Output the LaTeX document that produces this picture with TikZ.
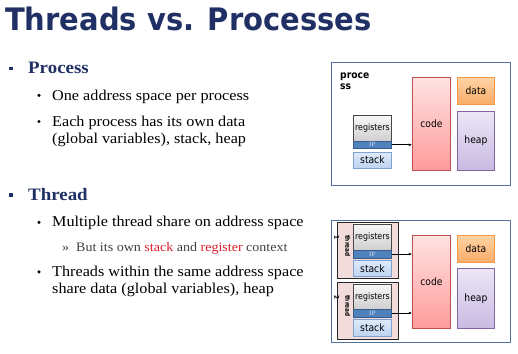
\documentclass[tikz,border=0pt]{standalone}
\usepackage{fontspec}
\setmainfont{Liberation Serif}[FakeStretch=1.08]
\newfontfamily\titlefont{DejaVu Sans}[FakeStretch=0.935]
\newfontfamily\diagfont{DejaVu Sans}[FakeStretch=0.9]
\usetikzlibrary{arrows.meta}
\definecolor{navy}{RGB}{32,48,100}
\definecolor{bodygray}{RGB}{64,64,64}
\definecolor{hired}{RGB}{218,30,40}
\definecolor{frameblue}{RGB}{84,112,160}
\definecolor{ipblue}{RGB}{79,129,189}
\definecolor{ipdark}{RGB}{56,93,138}
\definecolor{stacktop}{RGB}{222,234,248}
\definecolor{stackbot}{RGB}{190,212,240}
\definecolor{stackline}{RGB}{125,162,210}
\definecolor{codetop}{RGB}{255,226,226}
\definecolor{codebot}{RGB}{255,155,155}
\definecolor{codeline}{RGB}{192,80,77}
\definecolor{datatop}{RGB}{255,212,165}
\definecolor{databot}{RGB}{250,172,105}
\definecolor{dataline}{RGB}{247,150,70}
\definecolor{heaptop}{RGB}{236,230,246}
\definecolor{heapbot}{RGB}{200,186,226}
\definecolor{heapline}{RGB}{128,100,162}
\definecolor{threadfill}{RGB}{242,220,219}
\tikzset{
  blk/.style={rectangle, inner sep=0pt, anchor=north west, font=\diagfont\fontsize{10.2}{10.2}\selectfont},
  outerbox/.style={blk, draw=frameblue, line width=1.3pt, fill=white},
  regbox/.style={blk, top color=gray!6, bottom color=gray!38, draw=gray!55!black, line width=0.8pt, minimum width=38pt, font=\diagfont\fontsize{8.8}{8.8}\selectfont},
  ipbar/.style={blk, fill=ipblue, draw=ipdark, line width=0.6pt, minimum width=38pt, text=white!75!ipblue, font=\fontsize{6.5}{6.5}\selectfont},
  stackbox/.style={blk, top color=stacktop, bottom color=stackbot, draw=stackline, line width=0.8pt, minimum width=38pt},
  codebox/.style={blk, top color=codetop, bottom color=codebot, draw=codeline, line width=0.8pt, minimum width=38pt, minimum height=93pt},
  databox/.style={blk, top color=datatop, bottom color=databot, draw=dataline, line width=0.8pt, minimum width=37pt, minimum height=27pt},
  heapbox/.style={blk, top color=heaptop, bottom color=heapbot, draw=heapline, line width=0.8pt, minimum width=37pt},
  threadbox/.style={blk, fill=threadfill, draw=black!85, line width=1.1pt, minimum width=61pt},
  threadlabel/.style={inner sep=0pt, rotate=-90, anchor=north west, align=left, font=\diagfont\bfseries\fontsize{6.4}{11}\selectfont},
  ptr/.style={draw=black, line width=0.8pt, -{Latex[length=3.2pt,width=3pt]}},
  txt/.style={inner sep=0pt, anchor=base west, align=left},
  item/.style={txt, font=\fontsize{15}{17}\selectfont},
  heading/.style={txt, text=navy, font=\bfseries\fontsize{17.5}{17.5}\selectfont},
  sqbullet/.style={fill=navy},
  dotbullet/.style={fill=black}
}
\begin{document}
\begin{tikzpicture}[x=1pt,y=-1pt]
\useasboundingbox (0,0) rectangle (518,353);
% ---------- text ----------
\node[txt, text=navy, font=\titlefont\bfseries\fontsize{31}{31}\selectfont] (title) at (5,30.5) {Threads vs. Processes};

\fill[sqbullet] (9.3,66.7) rectangle (12.7,70.4);
\node[heading] (hproc) at (28,73.5) {Process};
\fill[dotbullet] (39,95.3) circle (1.7);
\node[item] (i1) at (52,100) {One address space per process};
\fill[dotbullet] (39,121.5) circle (1.7);
% base anchor of a two-line node is the baseline of its last line
\node[item] (i2) at (52,143) {Each process has its own data\\(global variables), stack, heap};

\fill[sqbullet] (9.3,192.8) rectangle (12.7,196.5);
\node[heading] (hthr) at (28,200.5) {Thread};
\fill[dotbullet] (39,222.3) circle (1.7);
\node[item] (i3) at (52,226.7) {Multiple thread share on address space};
\node[txt, text=bodygray, font=\fontsize{13}{15}\selectfont] (i3a) at (62,251) {\makebox[14pt][l]{»}But its own \textcolor{hired}{stack} and \textcolor{hired}{register} context};
\fill[dotbullet] (39,271.8) circle (1.7);
\node[item] (i4) at (52,293.7) {Threads within the same address space\\share data (global variables), heap};

% ---------- process diagram ----------
\node[outerbox, minimum width=179pt, minimum height=123pt] (outer1) at (331,62) {};
\node[blk, inner sep=0pt, align=left, font=\diagfont\bfseries\fontsize{10.2}{11}\selectfont] (plabel) at (340,73) {proce\\ss};
\node[regbox, minimum height=26pt] (reg1) at (353,115) {registers};
\node[ipbar, minimum height=7pt] (ip1) at (353,141) {IP};
\node[stackbox, minimum height=15.5pt] (stack1) at (353,152) {stack};
\node[codebox] (code1) at (412,77) {code};
\node[databox] (data1) at (457,77) {data};
\node[heapbox, minimum height=59pt] (heap1) at (457,111) {heap};
\draw[ptr] (ip1.east) -- (ip1.east -| code1.west);

% ---------- thread diagram ----------
\node[outerbox, minimum width=179pt, minimum height=122pt] (outer2) at (331,220) {};
\node[threadbox, minimum height=56pt] (th1) at (337,222) {};
\node[threadbox, minimum height=56.5pt] (th2) at (337,282) {};
\node[threadlabel] (tl1) at (350.5,235) {thread\\1};
\node[threadlabel] (tl2) at (350.5,295) {thread\\2};
\node[regbox, minimum height=26.5pt] (reg2) at (353,223.5) {registers};
\node[ipbar, minimum height=7.5pt] (ip2) at (353,250) {IP};
\node[stackbox, minimum height=16pt] (stack2) at (353,260) {stack};
\node[regbox, minimum height=25.5pt] (reg3) at (353,283.5) {registers};
\node[ipbar, minimum height=7.5pt] (ip3) at (353,309) {IP};
\node[stackbox, minimum height=16.5pt] (stack3) at (353,319) {stack};
\node[codebox] (code2) at (412,235) {code};
\node[databox] (data2) at (457,235) {data};
\node[heapbox, minimum height=60pt] (heap2) at (457,268) {heap};
\draw[ptr] (ip2.east) -- (ip2.east -| code2.west);
\draw[ptr] (ip3.east) -- (ip3.east -| code2.west);
\end{tikzpicture}
\end{document}
